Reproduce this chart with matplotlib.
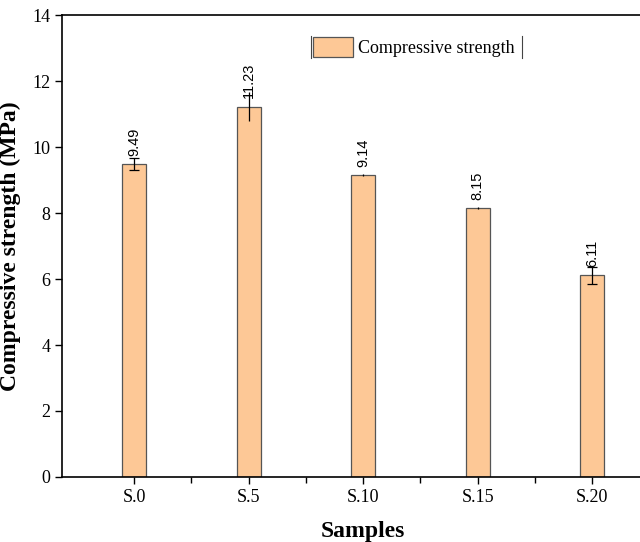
import matplotlib
matplotlib.use("Agg")
import matplotlib.pyplot as plt
from matplotlib.ticker import FixedLocator

samples = ["S.0", "S.5", "S.10", "S.15", "S.20"]
strength = [9.49, 11.23, 9.14, 8.15, 6.11]
errors = [0.18, 0.45, 0.03, 0.02, 0.26]
capped = [True, False, False, False, True]

plt.rcParams['font.family'] = ['Liberation Serif', 'DejaVu Serif']

fig = plt.figure(figsize=(6.4, 5.42), dpi=100)
ax = fig.add_axes([0.097, 0.12, 0.941, 0.852])

x = list(range(len(samples)))
ax.bar(x, strength, width=0.21, color='#FDC896', edgecolor='#555555', linewidth=0.9,
       label='Compressive strength', zorder=2)
for xi, v, e, c in zip(x, strength, errors, capped):
    ax.errorbar(xi, v, yerr=e, fmt='none', ecolor='black', elinewidth=0.9,
                capsize=3.5 if c else 0, capthick=0.9, zorder=3)

for xi, v in zip(x, strength):
    ax.text(xi, v + 0.25, f"{v:.2f}", rotation=90, ha='center', va='bottom',
            fontsize=10.5, family=['Liberation Sans', 'DejaVu Sans'], zorder=4)

ax.set_xlim(-0.63, 4.63)
ax.set_ylim(0, 14)
ax.set_yticks(range(0, 15, 2))
ax.set_xticks(x)
ax.set_xticklabels(samples)
ax.xaxis.set_minor_locator(FixedLocator([i + 0.5 for i in range(0, 5)]))
ax.tick_params(axis='both', which='major', direction='out', length=5, width=1, labelsize=13)
ax.tick_params(axis='x', which='minor', direction='out', length=4, width=1)
for s in ax.spines.values():
    s.set_linewidth(1.2)

ax.set_xlabel('Samples', fontsize=17, fontweight='bold', labelpad=11)
ax.set_ylabel('Compressive strength (MPa)', fontsize=17, fontweight='bold', labelpad=8)

leg = ax.legend(loc='upper left', bbox_to_anchor=(0.393, 0.985), frameon=False,
                fontsize=13, handlelength=2.2, handleheight=1.35, handletextpad=0.3,
                borderpad=0.3)
# vertical bars at the legend's sides
ax.plot([0.4136, 0.4136], [0.907, 0.9545], transform=ax.transAxes, color='#444444', lw=0.8, clip_on=False)
ax.plot([0.7641, 0.7641], [0.907, 0.9545], transform=ax.transAxes, color='#444444', lw=0.8, clip_on=False)

fig.savefig('out.png', dpi=100)
